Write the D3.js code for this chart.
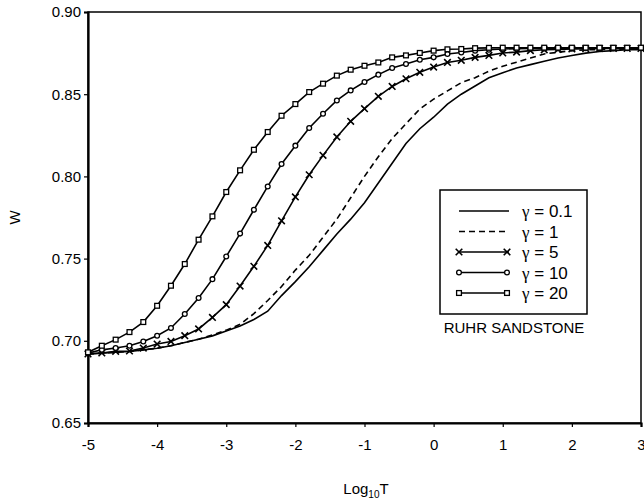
<!DOCTYPE html>
<html>
<head>
<meta charset="utf-8">
<script src="https://cdn.jsdelivr.net/npm/d3@7"></script>
<style>
  body { margin: 0; background: #fff; }
  svg { display: block; font-family: "Liberation Sans", Arial, sans-serif; }
</style>
</head>
<body>
<svg id="chart" width="644" height="502"></svg>
<script>
const logT = [-5.0, -4.8, -4.6, -4.4, -4.2, -4.0, -3.8, -3.6, -3.4, -3.2, -3.0,
  -2.8, -2.6, -2.4, -2.2, -2.0, -1.8, -1.6, -1.4, -1.2, -1.0,
  -0.8, -0.6, -0.4, -0.2, 0.0, 0.2, 0.4, 0.6, 0.8, 1.0,
  1.2, 1.4, 1.6, 1.8, 2.0, 2.2, 2.4, 2.6, 2.8, 3.0]

const w_g01 = [0.692, 0.6925, 0.693, 0.6935, 0.6945, 0.6955, 0.697, 0.699, 0.701, 0.703, 0.706,
  0.709, 0.713, 0.718, 0.7275, 0.736, 0.745, 0.755, 0.765, 0.774, 0.784,
  0.796, 0.808, 0.820, 0.829, 0.836, 0.844, 0.850, 0.855, 0.860, 0.863,
  0.866, 0.868, 0.870, 0.872, 0.8735, 0.875, 0.876, 0.8765, 0.877, 0.877]

const w_g1 = [0.692, 0.6925, 0.693, 0.6935, 0.6945, 0.6955, 0.697, 0.699, 0.701, 0.7035, 0.7065,
  0.710, 0.7165, 0.7245, 0.733, 0.743, 0.752, 0.763, 0.774, 0.787, 0.800,
  0.812, 0.823, 0.832, 0.841, 0.847, 0.852, 0.857, 0.860, 0.864, 0.867,
  0.8695, 0.872, 0.8745, 0.8755, 0.8765, 0.877, 0.8772, 0.8774, 0.8775, 0.8775]

const w_g5 = [0.692, 0.6926, 0.6936, 0.6938, 0.6956, 0.698, 0.6996, 0.7031, 0.7072, 0.7142, 0.722,
  0.7333, 0.7453, 0.758, 0.773, 0.7875, 0.801, 0.8128, 0.824, 0.8335, 0.8412,
  0.8487, 0.8547, 0.8594, 0.8633, 0.8665, 0.8693, 0.8706, 0.8724, 0.8736, 0.8751,
  0.8756, 0.8765, 0.877, 0.8772, 0.8775, 0.8777, 0.8778, 0.8778, 0.8778, 0.8778]

const w_g10 = [0.6925, 0.6945, 0.6956, 0.697, 0.6996, 0.7031, 0.7078, 0.7163, 0.726, 0.7375, 0.7513,
  0.7652, 0.7797, 0.7939, 0.8075, 0.8187, 0.8294, 0.8381, 0.8462, 0.8523, 0.8574,
  0.8619, 0.8659, 0.8684, 0.871, 0.8724, 0.8745, 0.8754, 0.8765, 0.877, 0.8775,
  0.8777, 0.8778, 0.8778, 0.8779, 0.8779, 0.878, 0.878, 0.878, 0.878, 0.878]

const w_g20 = [0.693, 0.697, 0.7007, 0.7053, 0.7114, 0.7213, 0.7335, 0.7467, 0.7615, 0.7757, 0.7905,
  0.8037, 0.8162, 0.827, 0.8369, 0.844, 0.8513, 0.8564, 0.8613, 0.8649, 0.8673,
  0.8693, 0.8724, 0.8736, 0.8751, 0.8765, 0.8773, 0.8775, 0.878, 0.8782, 0.8783,
  0.8783, 0.8783, 0.8783, 0.8783, 0.8783, 0.8783, 0.8783, 0.8783, 0.8783, 0.8783]

const gammaValues = ['0.1', '1', '5', '10', '20']
const seriesValues = [w_g01, w_g1, w_g5, w_g10, w_g20]
const seriesMarkers = ['none', 'none', 'cross', 'circle', 'square']
const seriesDash = [null, '6,4', null, null, null]

const xTicks = [-5, -4, -3, -2, -1, 0, 1, 2, 3]
const yTicks = [0.65, 0.70, 0.75, 0.80, 0.85, 0.90]

const svg = d3.select('#chart')
const plotLeft = 88, plotRight = 641, plotTop = 12, plotBottom = 423

const x = d3.scaleLinear().domain([-5, 3]).range([plotLeft, plotRight])
const y = d3.scaleLinear().domain([0.65, 0.90]).range([plotBottom, plotTop])

// frame
svg.append('rect')
  .attr('x', plotLeft).attr('y', plotTop)
  .attr('width', plotRight - plotLeft).attr('height', plotBottom - plotTop)
  .attr('fill', 'none').attr('stroke', '#000').attr('stroke-width', 1.5)

const xAxis = svg.append('g')
  .attr('transform', `translate(0,${plotBottom})`)
  .call(d3.axisBottom(x).tickValues(xTicks).tickSize(4).tickPadding(12).tickFormat(d => String(d)))
const yAxis = svg.append('g')
  .attr('transform', `translate(${plotLeft},0)`)
  .call(d3.axisLeft(y).tickValues(yTicks).tickSize(4).tickPadding(3).tickFormat(d3.format('.2f')))

for (const ax of [xAxis, yAxis]) {
  ax.select('.domain').attr('stroke-width', 2.2)
  ax.selectAll('line').attr('stroke-width', 1.2)
  ax.selectAll('text').attr('font-size', 15).attr('fill', '#000')
    .attr('font-family', '"Liberation Sans", Arial, sans-serif')
}

// axis titles
svg.append('text')
  .attr('transform', `translate(20,${(plotTop + plotBottom) / 2}) rotate(-90)`)
  .attr('text-anchor', 'middle')
  .attr('font-size', 15)
  .text('W')

const xt = svg.append('text')
  .attr('x', 366)
  .attr('y', 494)
  .attr('text-anchor', 'middle')
  .attr('font-size', 15)
xt.append('tspan').text('Log')
xt.append('tspan').attr('font-size', 10).attr('dy', 4).text('10')
xt.append('tspan').attr('dy', -4).text('T')

const line = d3.line().x((d, i) => x(logT[i])).y(d => y(d))

function drawMarker(g, type, cx, cy) {
  if (type === 'cross') {
    const s = 3.3
    g.append('path')
      .attr('d', `M${cx - s},${cy - s}L${cx + s},${cy + s}M${cx - s},${cy + s}L${cx + s},${cy - s}`)
      .attr('stroke', '#000').attr('stroke-width', 1.6)
  } else if (type === 'circle') {
    g.append('circle').attr('cx', cx).attr('cy', cy).attr('r', 2.4)
      .attr('fill', '#fff').attr('stroke', '#000').attr('stroke-width', 1.3)
  } else if (type === 'square') {
    g.append('rect').attr('x', cx - 2.4).attr('y', cy - 2.4).attr('width', 4.8).attr('height', 4.8)
      .attr('fill', '#fff').attr('stroke', '#000').attr('stroke-width', 1.3)
  }
}

const plot = svg.append('g')
seriesValues.forEach((vals, k) => {
  plot.append('path')
    .attr('d', line(vals))
    .attr('fill', 'none')
    .attr('stroke', '#000')
    .attr('stroke-width', 1.6)
    .attr('stroke-dasharray', seriesDash[k])
  if (seriesMarkers[k] !== 'none') {
    const mg = plot.append('g')
    vals.forEach((v, i) => drawMarker(mg, seriesMarkers[k], x(logT[i]), y(v)))
  }
})

// legend
const lg = svg.append('g')
lg.append('rect')
  .attr('x', 440).attr('y', 190).attr('width', 147).attr('height', 124)
  .attr('fill', '#fff').attr('stroke', '#000').attr('stroke-width', 1.5)

gammaValues.forEach((g, k) => {
  const ly = 211 + k * 20.5
  lg.append('line')
    .attr('x1', 459).attr('x2', 509).attr('y1', ly).attr('y2', ly)
    .attr('stroke', '#000').attr('stroke-width', 1.6)
    .attr('stroke-dasharray', seriesDash[k])
  if (seriesMarkers[k] !== 'none') {
    drawMarker(lg, seriesMarkers[k], 459, ly)
    drawMarker(lg, seriesMarkers[k], 507, ly)
  }
  const t = lg.append('text')
    .attr('x', 522).attr('y', ly + 6)
    .attr('font-size', 17)
  t.append('tspan').attr('font-family', '"Liberation Serif", "DejaVu Serif", serif').text('γ')
  t.append('tspan').text(' = ' + g)
})

svg.append('text')
  .attr('x', 514).attr('y', 333)
  .attr('text-anchor', 'middle')
  .attr('font-size', 15)
  .text('RUHR SANDSTONE')
</script>
</body>
</html>
